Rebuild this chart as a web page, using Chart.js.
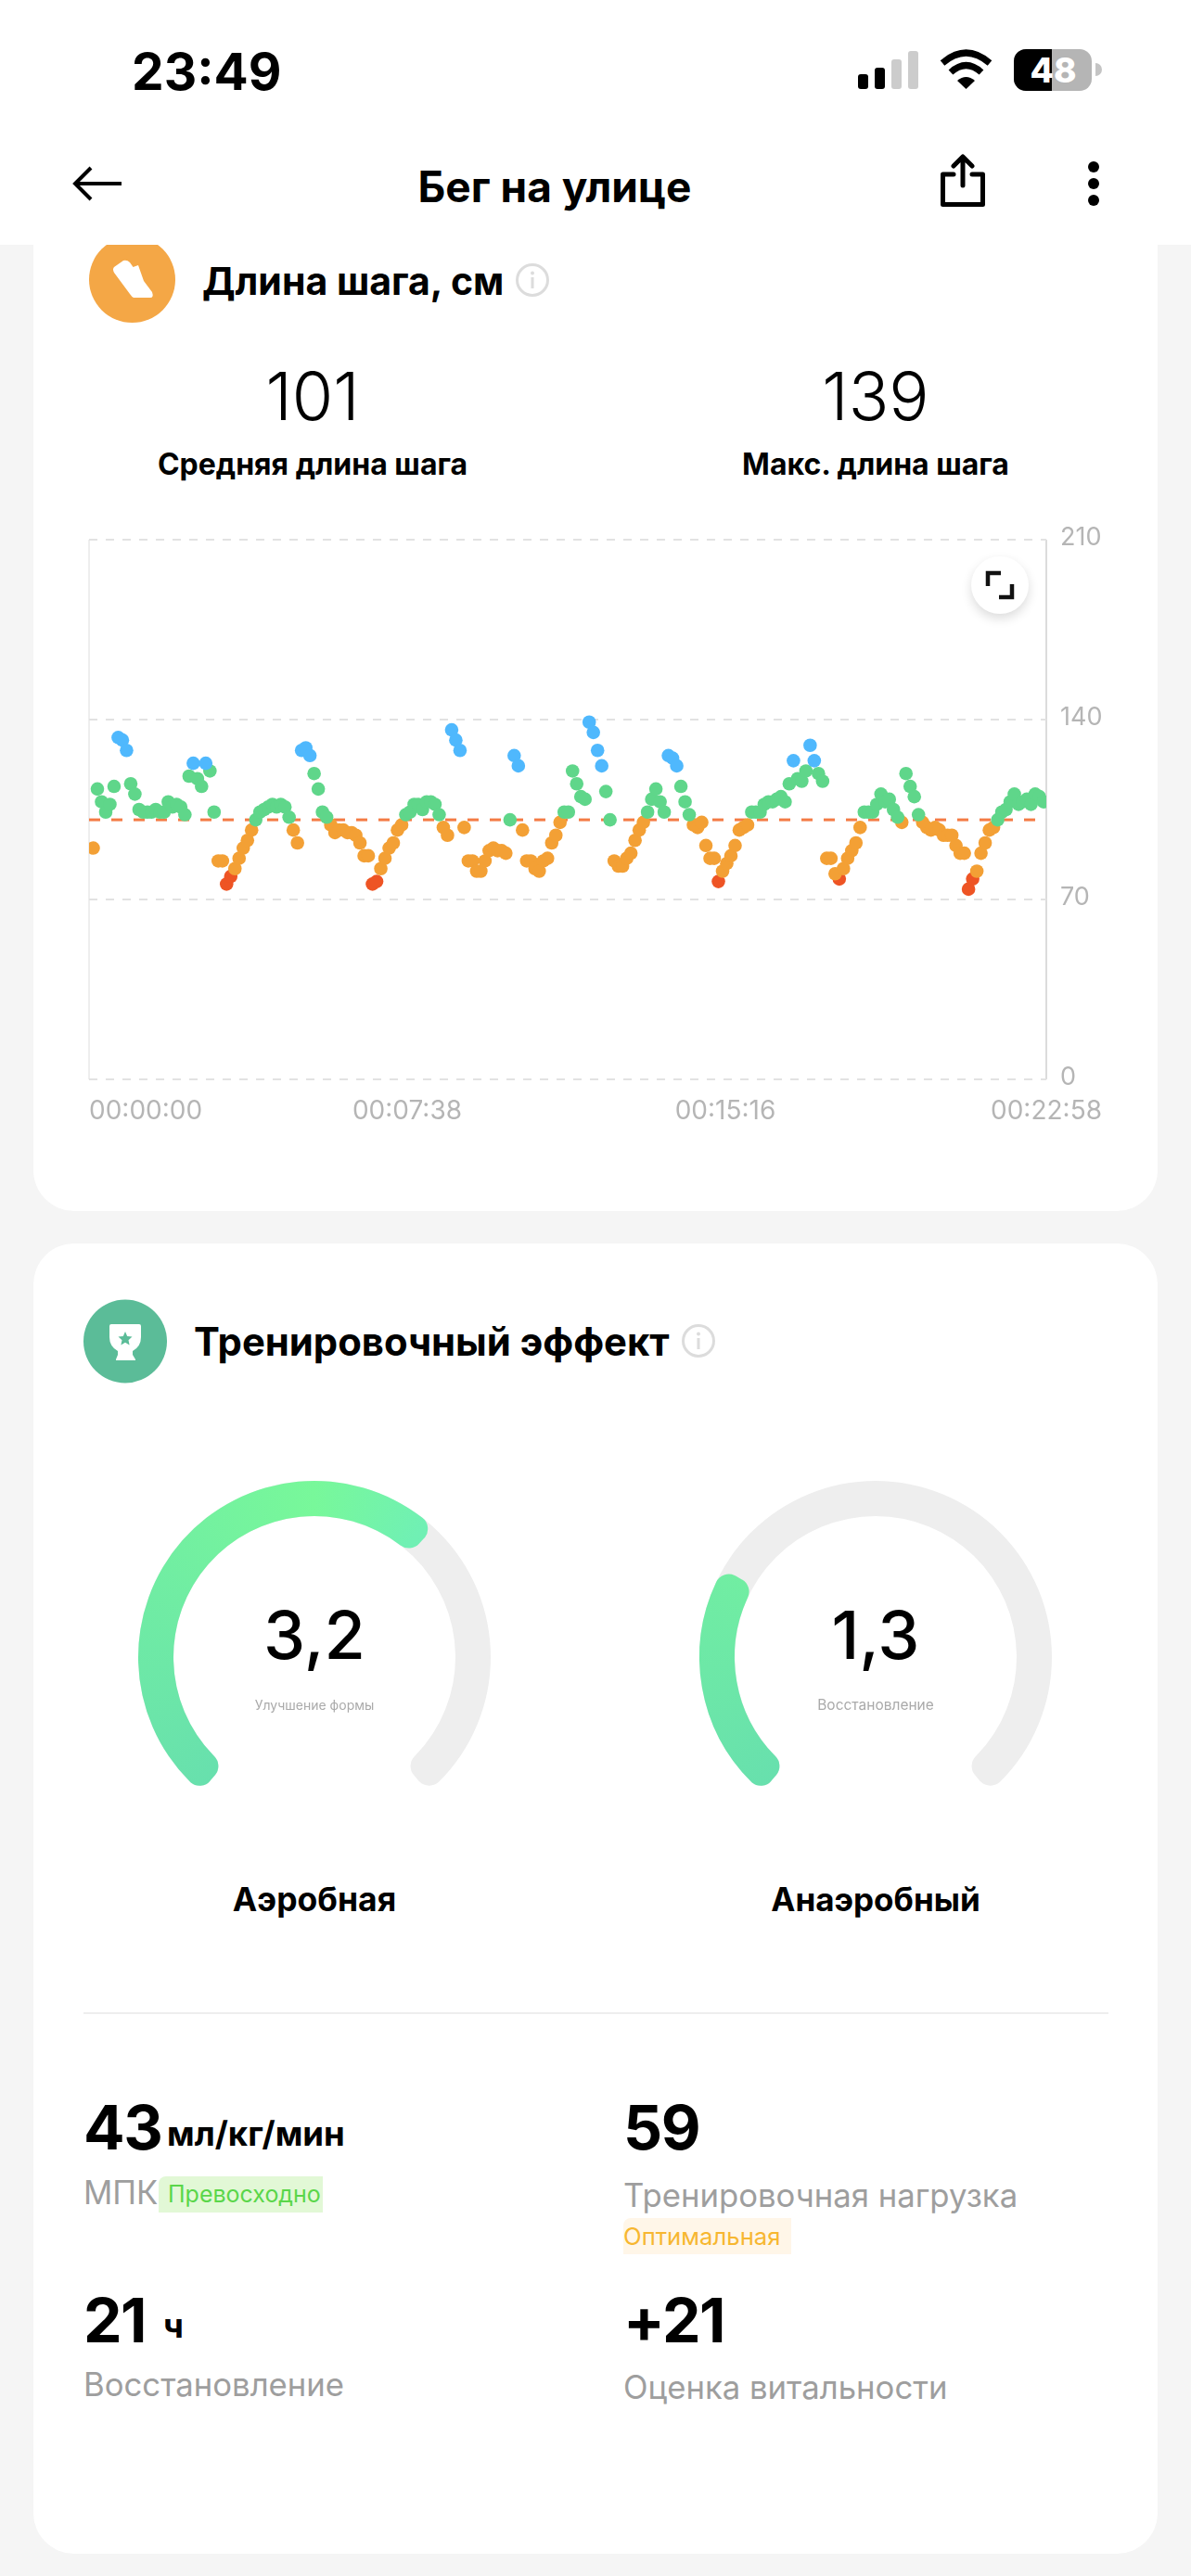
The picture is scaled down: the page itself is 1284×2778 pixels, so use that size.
<!DOCTYPE html>
<html lang="ru">
<head>
<meta charset="utf-8">
<title>Бег на улице</title>
<script src="https://cdn.jsdelivr.net/npm/chart.js@4"></script>
<style>
html, body { margin: 0; padding: 0; background: #f5f5f5; }
body { position: relative; width: 1284px; height: 2778px; overflow: hidden; font-family: Inter, "Liberation Sans", sans-serif; color: #000; }
.abs { position: absolute; white-space: nowrap; }
.mid { transform: translate(-50%, -50%); }
.vmid { transform: translateY(-50%); }
.card { position: absolute; left: 36px; width: 1212px; background: #fff; border-radius: 44px; }
.grey { color: #9e9e9e; font-size: 34.7px; }
.big { font-weight: 700; font-size: 66px; line-height: 66px; letter-spacing: -1.5px; }
.unit { font-weight: 700; font-size: 36.5px; line-height: 36px; }
.tag { line-height: 39px; height: 39px; border-radius: 8px 0 0 0; box-sizing: border-box; }
canvas { position: absolute; }
</style>
</head>
<body>
<div class="card" style="top:-100px;height:1406px"></div>
<div class="card" style="top:1341px;height:1413px"></div>

<!-- шапка -->
<div class="abs" style="left:0;top:0;width:1284px;height:264px;background:#fff;z-index:5"></div>
<div style="position:absolute;left:0;top:0;width:1284px;height:264px;z-index:6">
  <div class="abs vmid" style="left:142px;top:77px;font-size:55px;font-weight:700">23:49</div>
  <svg class="abs" style="left:920px;top:50px" width="270" height="52" viewBox="920 50 270 52">
    <rect x="925" y="80" width="11" height="16" rx="3" fill="#000"/>
    <rect x="943" y="73" width="11" height="23" rx="3" fill="#000"/>
    <rect x="961" y="64" width="11" height="32" rx="3" fill="#ccc"/>
    <rect x="979" y="55" width="11" height="41" rx="3" fill="#ccc"/>
    <path d="M1016 68 Q1041.5 46 1067 68 M1025 78 Q1041.5 63 1058 78" fill="none" stroke="#000" stroke-width="7"/>
    <path d="M1032 87 Q1041.5 79 1051 87 L1041.5 96 Z" fill="#000"/>
    <rect x="1093" y="53" width="84" height="45" rx="13" fill="#b5b5b5"/>
    <path d="M1134 53 H1106 a13 13 0 0 0 -13 13 V85 a13 13 0 0 0 13 13 H1134 Z" fill="#000"/>
    <path d="M1181 68 a7 7 0 0 1 0 14 Z" fill="#c4c4c4"/>
    <text x="1135.5" y="88.5" text-anchor="middle" font-size="37" font-weight="800" fill="#fff" font-family="Inter">48</text>
  </svg>
  <svg class="abs" style="left:70px;top:170px" width="70" height="56" viewBox="70 170 70 56">
    <path d="M131 198 H82 M98 181 L81 198 L98 215" fill="none" stroke="#000" stroke-width="4"/>
  </svg>
  <div class="abs mid" style="left:598px;top:201px;font-size:46px;font-weight:700">Бег на улице</div>
  <svg class="abs" style="left:1005px;top:160px" width="70" height="70" viewBox="1005 160 70 70">
    <path d="M1028 188 H1016.5 V220.5 H1059.5 V188 H1048 M1038 200 V170 M1028 179 L1038 169 L1048 179" fill="none" stroke="#000" stroke-width="5" stroke-linejoin="round" stroke-linecap="round"/>
  </svg>
  <svg class="abs" style="left:1165px;top:165px" width="30" height="66" viewBox="1165 165 30 66">
    <circle cx="1179" cy="180" r="6"/><circle cx="1179" cy="198" r="6"/><circle cx="1179" cy="216" r="6"/>
  </svg>
</div>

<!-- карточка: длина шага -->
<svg class="abs" style="left:90px;top:250px" width="110" height="110" viewBox="90 250 110 110">
  <circle cx="142.5" cy="301.5" r="46.5" fill="#f4a746"/>
  <path d="M123 288 L133 281 Q137 280 140 283 L143.5 288 L149 286 L155 303 L164 315 Q166 321 162 321 L144 321 Q142 320 140 317 L123 294 Q121 290 123 288 Z" fill="#fff"/>
</svg>
<div class="abs vmid" style="left:218px;top:303px;font-size:41px;font-weight:700">Длина шага, см</div>
<svg class="abs" style="left:554px;top:282px" width="40" height="40" viewBox="0 0 40 40">
  <circle cx="20" cy="20" r="16.5" fill="none" stroke="#dcdcdc" stroke-width="3"/>
  <circle cx="20" cy="12.5" r="2" fill="#dcdcdc"/><rect x="18.5" y="17" width="3" height="12" fill="#dcdcdc"/>
</svg>
<div class="abs mid" style="left:337px;top:426px;font-size:72px;font-weight:300">101</div>
<div class="abs mid" style="left:944px;top:426px;font-size:72px;font-weight:300">139</div>
<div class="abs mid" style="left:337px;top:500px;font-size:32px;font-weight:700">Средняя длина шага</div>
<div class="abs mid" style="left:944px;top:500px;font-size:32px;font-weight:700">Макс. длина шага</div>

<canvas id="stepChart" style="left:60px;top:560px"></canvas>

<div class="abs" style="left:1047px;top:600px;width:62px;height:62px;border-radius:50%;background:#fff;box-shadow:0 5px 12px rgba(0,0,0,.14)"></div>
<svg class="abs" style="left:1047px;top:600px" width="62" height="62" viewBox="0 0 62 62">
  <path d="M32 18 H18 V32 M30 44 H44 V30" fill="none" stroke="#111" stroke-width="4.5"/>
</svg>

<!-- карточка: тренировочный эффект -->
<svg class="abs" style="left:85px;top:1395px" width="100" height="104" viewBox="85 1395 100 104">
  <circle cx="135" cy="1446.5" r="45" fill="#5bbc98"/>
  <path d="M120 1428 H150 Q152 1428 152 1430 V1442 Q152 1452 143 1457 V1461 L146 1466 V1467 H125 V1466 L127 1461 V1457 Q118 1452 118 1442 V1430 Q118 1428 120 1428 Z" fill="#fff"/>
  <path d="M135 1436 l2.2 5 5.3 .6 -4 3.6 1.1 5.3 -4.6 -2.7 -4.6 2.7 1.1 -5.3 -4 -3.6 5.3 -.6 Z" fill="#5bbc98"/>
</svg>
<div class="abs vmid" style="left:209px;top:1447px;font-size:41.8px;font-weight:700">Тренировочный эффект</div>
<svg class="abs" style="left:733px;top:1426px" width="40" height="40" viewBox="0 0 40 40">
  <circle cx="20" cy="20" r="16.5" fill="none" stroke="#dcdcdc" stroke-width="3"/>
  <circle cx="20" cy="12.5" r="2" fill="#dcdcdc"/><rect x="18.5" y="17" width="3" height="12" fill="#dcdcdc"/>
</svg>

<canvas id="aeroTrack" style="left:139px;top:1587px"></canvas>
<canvas id="aeroValue" style="left:139px;top:1587px"></canvas>
<canvas id="anaeroTrack" style="left:744px;top:1587px"></canvas>
<canvas id="anaeroValue" style="left:744px;top:1587px"></canvas>

<div class="abs mid" style="left:339px;top:1762px;font-size:72px;font-weight:500" id="aeroText"></div>
<div class="abs mid" style="left:339px;top:1838px;font-size:14px;color:#aaa">Улучшение формы</div>
<div class="abs mid" style="left:339px;top:2048px;font-size:35.5px;font-weight:700">Аэробная</div>
<div class="abs mid" style="left:944px;top:1762px;font-size:72px;font-weight:500" id="anaeroText"></div>
<div class="abs mid" style="left:944px;top:1838px;font-size:15.5px;color:#aaa">Восстановление</div>
<div class="abs mid" style="left:944px;top:2048px;font-size:35px;font-weight:700">Анаэробный</div>

<div class="abs" style="left:90px;top:2170px;width:1105px;height:2px;background:#eee"></div>

<div class="abs big" style="left:90px;top:2261px">43</div>
<div class="abs unit" style="left:180px;top:2283px">мл/кг/мин</div>
<div class="abs grey vmid" style="left:90px;top:2364px">МПК</div>
<div class="abs tag" style="left:171px;top:2347px;width:177px;padding-left:10px;font-size:25px;background:#e2f8d6;color:#5ad64a">Превосходно</div>

<div class="abs big" style="left:672px;top:2261px">59</div>
<div class="abs grey vmid" style="left:672px;top:2367px">Тренировочная нагрузка</div>
<div class="abs tag" style="left:672px;top:2392px;width:181px;font-size:25.7px;background:#fff6e8;color:#f7b731">Оптимальная</div>

<div class="abs big" style="left:90px;top:2469px">21</div>
<div class="abs unit" style="left:176px;top:2490px">ч</div>
<div class="abs grey vmid" style="left:90px;top:2571px">Восстановление</div>

<div class="abs big" style="left:672px;top:2469px">+21</div>
<div class="abs grey vmid" style="left:672px;top:2574px">Оценка витальности</div>

<script>
// длина шага, см: точка каждые 6 секунд
const sampleStep = 6;
const stepLength = [
    90,113,108,104,107,114,133,132,128,115,111,105,104,104,104,105,104,104,108,106,
    107,106,103,118,123,117,114,123,120,104,85,85,76,79,82,86,90,93,97,101,
    104,105,106,107,106,107,106,102,97,92,128,129,126,119,113,104,102,99,96,97,
    97,96,96,95,92,87,87,76,77,82,86,90,92,97,99,103,104,107,107,105,
    108,108,107,103,98,95,136,132,128,98,85,85,81,81,85,89,90,89,89,88,
    101,126,122,97,85,85,82,81,85,86,92,95,100,104,104,120,115,110,109,139,
    135,128,122,112,101,85,83,83,86,88,93,97,100,104,109,113,108,104,126,125,
    122,114,108,103,99,98,100,91,86,86,77,81,84,87,91,97,98,99,104,104,
    104,107,108,108,109,110,108,115,124,117,116,120,130,124,119,116,86,86,80,78,
    82,86,89,92,98,104,104,104,107,111,108,109,105,102,100,119,114,110,103,100,
    98,97,98,97,95,95,95,91,88,88,74,78,81,88,92,97,98,101,104,105,
    108,111,107,108,109,107,111,110,108
];
const averageStep = 101;
const yTicks = [0, 70, 140, 210];
const xTickSeconds = [0, 458, 916, 1378];

const aerobicValue = 3.2;
const anaerobicValue = 1.3;
const gaugeMax = 5;

const colorBlue = '#4fb8fd';
const colorGreen = '#5fd68a';
const colorOrange = '#f3a035';
const colorRed = '#ee5424';

function formatTime(sec) {
    const m = Math.floor(sec / 60);
    const s = sec % 60;
    return '00:' + String(m).padStart(2, '0') + ':' + String(s).padStart(2, '0');
}

function zone(low, high) {
    const pts = [];
    stepLength.forEach((v, i) => {
        if (v >= low && v < high) pts.push({ x: (i + 1) * sampleStep, y: v });
    });
    return pts;
}

function dotSet(label, low, high, color) {
    return {
        label: label,
        data: zone(low, high),
        backgroundColor: color,
        pointRadius: 7.3,
        pointBorderWidth: 0,
        clip: 0
    };
}

Chart.defaults.font.family = 'Inter, "Liberation Sans", sans-serif';
Chart.defaults.animation = false;
Chart.defaults.responsive = false;

// первая подпись времени прижата к левому краю, остальные по центру
const firstLabelLeft = {
    id: 'firstLabelLeft',
    beforeDraw(chart) {
        const items = chart.scales.x.getLabelItems();
        if (items.length) items[0].options.textAlign = 'left';
    }
};

function setSize(id, w, h) {
    const c = document.getElementById(id);
    c.width = w;
    c.height = h;
    c.style.width = w + 'px';
    c.style.height = h + 'px';
    return c;
}

new Chart(setSize('stepChart', 1160, 670), {
    type: 'scatter',
    data: {
        datasets: [
            dotSet('blue', 121, 999, colorBlue),
            dotSet('green', 101, 121, colorGreen),
            dotSet('orange', 80, 101, colorOrange),
            dotSet('red', 0, 80, colorRed),
            {
                label: 'average',
                data: [{ x: 0, y: averageStep }, { x: 1378, y: averageStep }],
                showLine: true,
                pointRadius: 0,
                borderColor: '#f47b45',
                borderWidth: 3,
                borderDash: [12, 12],
                clip: 0
            }
        ]
    },
    options: {
        devicePixelRatio: 1,
        layout: { autoPadding: false, padding: { left: 36, top: 22, right: 0, bottom: 0 } },
        plugins: { legend: { display: false }, tooltip: { enabled: false } },
        scales: {
            x: {
                type: 'linear',
                min: 0,
                max: 1378,
                afterBuildTicks: (s) => { s.ticks = xTickSeconds.map((v) => ({ value: v })); },
                afterFit: (s) => { s.height = 66; s.paddingLeft = 0; s.paddingRight = 0; },
                border: { display: false },
                grid: {
                    drawTicks: false,
                    lineWidth: 2,
                    color: (ctx) => ctx.index === 0 ? '#eeeeee' : ctx.index === 3 ? '#dcdcdc' : 'transparent'
                },
                ticks: {
                    autoSkip: false,
                    maxRotation: 0,
                    padding: 18,
                    color: '#b5b5b5',
                    font: { size: 28 },
                    callback: (v) => formatTime(v)
                }
            },
            y: {
                position: 'right',
                min: 0,
                max: 210,
                afterBuildTicks: (s) => { s.ticks = yTicks.map((v) => ({ value: v })); },
                afterFit: (s) => { s.width = 92; s.paddingTop = 0; s.paddingBottom = 0; },
                border: { display: false, dash: [9, 9] },
                grid: {
                    drawTicks: false,
                    lineWidth: 2,
                    color: '#e2e2e2'
                },
                ticks: {
                    padding: 15,
                    labelOffset: -2,
                    color: '#b5b5b5',
                    font: { size: 27 }
                }
            }
        }
    },
    plugins: [firstLabelLeft]
});

const capDeg = 4.9;
const sweepDeg = 270;

// конический градиент: начало дуги снизу слева, самый светлый участок сверху
function arcGradient(ctx) {
    const chart = ctx.chart;
    const area = chart.chartArea;
    if (!area) return '#66dfae';
    const cx = (area.left + area.right) / 2;
    const cy = (area.top + area.bottom) / 2;
    const g = chart.ctx.createConicGradient(125 * Math.PI / 180, cx, cy);
    g.addColorStop(0, '#67dfae');
    g.addColorStop(0.403, '#78f89a');
    g.addColorStop(0.514, '#70f0b4');
    g.addColorStop(1, '#67dfae');
    return g;
}

function ringChart(id, value, color) {
    // хвост прозрачный, чтобы центр кольца не смещался
    const arc = sweepDeg * value / gaugeMax + capDeg * 2;
    const rest = value * (360 - arc) / arc;
    return new Chart(setSize(id, 400, 400), {
        type: 'doughnut',
        data: {
            labels: [id, 'rest'],
            datasets: [{
                data: [value, rest],
                backgroundColor: (ctx) => ctx.dataIndex === 0 ? color(ctx) : 'transparent',
                borderWidth: 0,
                borderRadius: 15
            }]
        },
        options: {
            devicePixelRatio: 1,
            radius: 190,
            cutout: 160,
            rotation: -135 - capDeg,
            layout: { padding: 0 },
            plugins: { legend: { display: false }, tooltip: { enabled: false } }
        }
    });
}

function gauge(name, value) {
    ringChart(name + 'Track', gaugeMax, () => '#eeeeee');
    ringChart(name + 'Value', value, arcGradient);
    document.getElementById(name + 'Text').textContent = String(value).replace('.', ',');
}

gauge('aero', aerobicValue);
gauge('anaero', anaerobicValue);
</script>
</body>
</html>
